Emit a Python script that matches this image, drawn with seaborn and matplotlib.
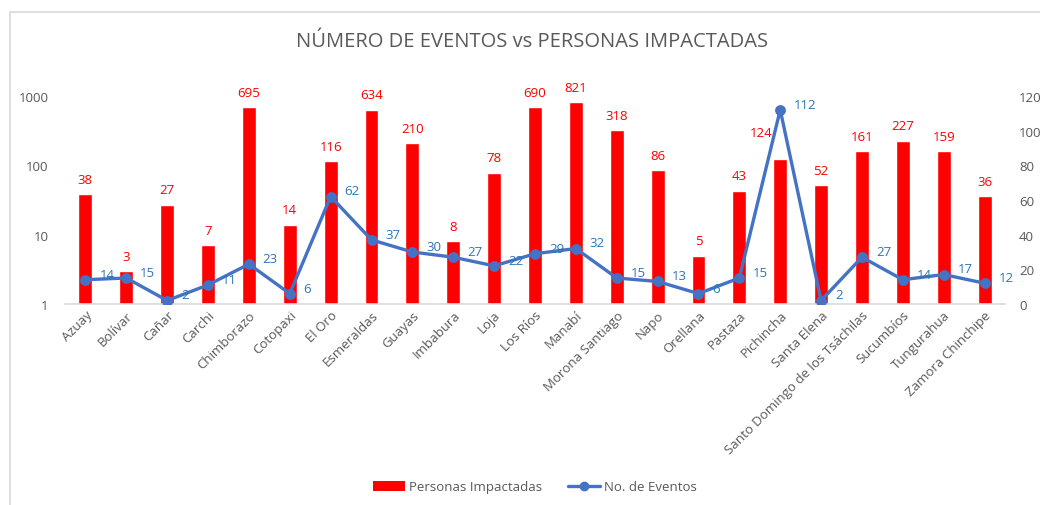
import matplotlib
matplotlib.use("Agg")
import matplotlib.pyplot as plt
import seaborn as sns
import numpy as np
from matplotlib.lines import Line2D
from matplotlib.patches import Patch

provincias = ["Azuay", "Bolívar", "Cañar", "Carchi", "Chimborazo", "Cotopaxi", "El Oro",
              "Esmeraldas", "Guayas", "Imbabura", "Loja", "Los Ríos", "Manabí",
              "Morona Santiago", "Napo", "Orellana", "Pastaza", "Pichincha", "Santa Elena",
              "Santo Domingo de los Tsáchilas", "Sucumbíos", "Tungurahua", "Zamora Chinchipe"]
personas = [38, 3, 27, 7, 695, 14, 116, 634, 210, 8, 78, 690, 821, 318, 86, 5, 43, 124,
            52, 161, 227, 159, 36]
eventos = [14, 15, 2, 11, 23, 6, 62, 37, 30, 27, 22, 29, 32, 15, 13, 6, 15, 112, 2, 27,
           14, 17, 12]

RED = "#FF0000"
BLUE = "#4472C4"
LBLUE = "#2E75B6"
GRAY = "#595959"

sns.set_style("white")
plt.rcParams["font.family"] = ["Open Sans", "DejaVu Sans"]

fig = plt.figure(figsize=(10.4, 5.06), dpi=100)
ax = fig.add_axes([65/1040, 1 - 305/506, (1005-65)/1040, (305-97)/506])

ax.set_yscale("log")
sns.barplot(x=provincias, y=personas, color=RED, width=0.34, saturation=1, ax=ax)
ax.set_yscale("log")
ax.set_ylim(1, 1000)
ax.set_yticks([1, 10, 100, 1000])
ax.set_yticklabels(["1", "10", "100", "1000"])
ax.minorticks_off()
ax.set_xlim(-0.5, len(provincias) - 0.5)

ax2 = ax.twinx()
sns.pointplot(x=provincias, y=eventos, color=BLUE, markers="o", ax=ax2,
              linewidth=2.4, markersize=6)
ax2.set_ylim(0, 120)
ax2.set_yticks(range(0, 121, 20))
ax2.set_xlim(-0.5, len(provincias) - 0.5)

# bar labels drawn on top axis (so they are not hidden by the line)
label_shift = {"Pichincha": (-14, 14)}
for i, (p, v) in enumerate(zip(provincias, personas)):
    dx, dy = label_shift.get(p, (0, 6))
    ax2.annotate(str(v), (i, v), xycoords=ax.transData, xytext=(dx, dy),
                 textcoords="offset points", ha="center", va="bottom",
                 color=RED, fontsize=9.5)
for i, v in enumerate(eventos):
    ax2.annotate(str(v), (i, v), xytext=(10, 4), textcoords="offset points",
                 ha="left", va="center", color=LBLUE, fontsize=9.5)

for a in (ax, ax2):
    for s in a.spines.values():
        s.set_visible(False)
    a.tick_params(axis="y", length=0, labelsize=9.5, colors=GRAY, pad=10)
    a.set_ylabel("")
    a.set_xlabel("")
ax.tick_params(axis="y", pad=12)
ax.spines["bottom"].set_visible(True)
ax.spines["bottom"].set_color("#D9D9D9")
ax.spines["bottom"].set_linewidth(1.2)
ax.set_xticks(range(len(provincias)))
ax.set_xticklabels(provincias)
ax.tick_params(axis="x", length=0, labelsize=9.5, colors=GRAY, pad=3)
plt.setp(ax.get_xticklabels(), rotation=45, ha="right", rotation_mode="anchor")

fig.text(532/1040, 1 - 42/506, "NÚMERO DE EVENTOS vs PERSONAS IMPACTADAS",
         ha="center", va="center", fontsize=14.5, color=GRAY)

handles = [Patch(facecolor=RED, edgecolor="none", label="Personas Impactadas"),
           Line2D([0], [0], color=BLUE, lw=2.4, marker="o", markersize=6,
                  label="No. de Eventos")]
leg = fig.legend(handles=handles, loc="center", bbox_to_anchor=(535/1040, 1 - 488/506),
                 ncol=2, frameon=False, fontsize=9.5, handlelength=2.4,
                 columnspacing=2.0, handletextpad=0.3)
for t in leg.get_texts():
    t.set_color(GRAY)

fig.add_artist(Line2D([10/1040, 10/1040], [0, 1 - 13/506], color="#D9D9D9", lw=1.2,
                      transform=fig.transFigure))
fig.add_artist(Line2D([10/1040, 1], [1 - 13/506, 1 - 13/506], color="#D9D9D9", lw=1.2,
                      transform=fig.transFigure))

fig.savefig("out.png", dpi=100)
